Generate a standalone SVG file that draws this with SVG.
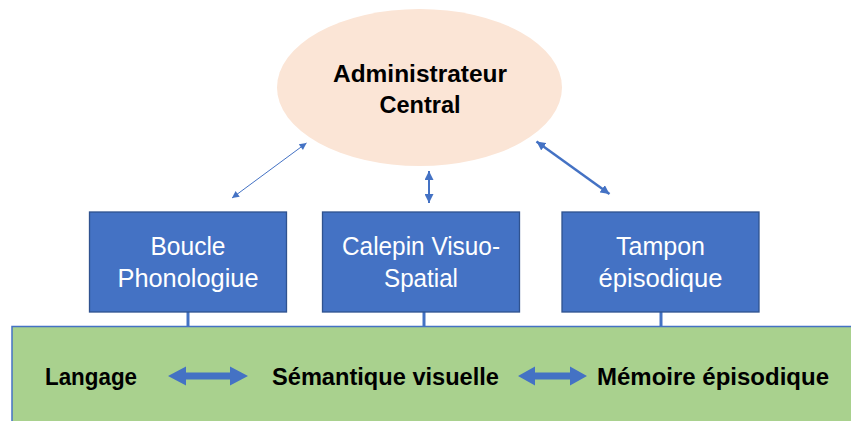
<svg xmlns="http://www.w3.org/2000/svg" width="851" height="421" viewBox="0 0 851 421">
<style>
.box{fill:#4472C4;stroke:#2F528F;stroke-width:1.3}
.boxtxt{font-family:"Liberation Sans",Arial,sans-serif;font-size:25px;fill:#FFFFFF;text-anchor:middle}
.bold{font-family:"Liberation Sans",Arial,sans-serif;font-size:23px;font-weight:bold;fill:#000000}
.conn{stroke:#4472C4;fill:none}
.blk{fill:#4472C4}
</style>
<defs>
<marker id="ahS" viewBox="0 0 10 10" refX="10" refY="5" markerWidth="9" markerHeight="7" markerUnits="userSpaceOnUse" orient="auto-start-reverse"><path d="M0,0 L10,5 L0,10 z" fill="#4472C4"/></marker>
<marker id="ahM" viewBox="0 0 10 10" refX="10" refY="5" markerWidth="9" markerHeight="9" markerUnits="userSpaceOnUse" orient="auto-start-reverse"><path d="M0,0 L10,5 L0,10 z" fill="#4472C4"/></marker>
</defs>

<g id="green-base">
<rect x="12" y="326.5" width="850" height="100" fill="#A9D18E" stroke="#4472C4" stroke-width="1.5"/>
</g>

<g id="connectors">
<line class="conn" x1="188" y1="312" x2="188" y2="326" stroke-width="3"/>
<line class="conn" x1="424" y1="312" x2="424" y2="326" stroke-width="3"/>
<line class="conn" x1="661" y1="312" x2="661" y2="326" stroke-width="3"/>
<line class="conn" x1="232" y1="198" x2="306.5" y2="143" stroke-width="1" marker-start="url(#ahS)" marker-end="url(#ahS)"/>
<line class="conn" x1="429" y1="171" x2="429" y2="203" stroke-width="2" marker-start="url(#ahM)" marker-end="url(#ahM)"/>
<line class="conn" x1="536.5" y1="141.5" x2="609.5" y2="194" stroke-width="2.5" marker-start="url(#ahM)" marker-end="url(#ahM)"/>
<path class="blk" d="M168,376 L186,366.5 L186,372.5 L230,372.5 L230,366.5 L248,376 L230,385.5 L230,379.5 L186,379.5 L186,385.5 Z"/>
<path class="blk" d="M518,376 L535,366.5 L535,372.5 L570,372.5 L570,366.5 L587,376 L570,385.5 L570,379.5 L535,379.5 L535,385.5 Z"/>
</g>

<g id="administrateur">
<ellipse cx="419.5" cy="87.5" rx="142.5" ry="78.5" fill="#FBE5D6"/>
<text class="bold" x="333" y="81.5" textLength="174" lengthAdjust="spacingAndGlyphs">Administrateur</text>
<text class="bold" x="379.5" y="113" textLength="81" lengthAdjust="spacingAndGlyphs">Central</text>
</g>

<g id="boucle">
<rect class="box" x="89.5" y="212" width="197" height="100"/>
<text class="boxtxt" x="188" y="255" textLength="75" lengthAdjust="spacingAndGlyphs">Boucle</text>
<text class="boxtxt" x="188" y="287" textLength="141" lengthAdjust="spacingAndGlyphs">Phonologiue</text>
</g>

<g id="calepin">
<rect class="box" x="322.5" y="212" width="197" height="100"/>
<text class="boxtxt" x="421" y="255" textLength="158" lengthAdjust="spacingAndGlyphs">Calepin Visuo-</text>
<text class="boxtxt" x="421" y="287" textLength="74" lengthAdjust="spacingAndGlyphs">Spatial</text>
</g>

<g id="tampon">
<rect class="box" x="562" y="212" width="197" height="100"/>
<text class="boxtxt" x="660.5" y="255" textLength="89" lengthAdjust="spacingAndGlyphs">Tampon</text>
<text class="boxtxt" x="660.5" y="287" textLength="124" lengthAdjust="spacingAndGlyphs">épisodique</text>
</g>

<g id="langage">
<text class="bold" x="45" y="385" textLength="92" lengthAdjust="spacingAndGlyphs">Langage</text>
</g>
<g id="semantique">
<text class="bold" x="272" y="385" textLength="227" lengthAdjust="spacingAndGlyphs">Sémantique visuelle</text>
</g>
<g id="memoire">
<text class="bold" x="597" y="385" textLength="232" lengthAdjust="spacingAndGlyphs">Mémoire épisodique</text>
</g>
</svg>
